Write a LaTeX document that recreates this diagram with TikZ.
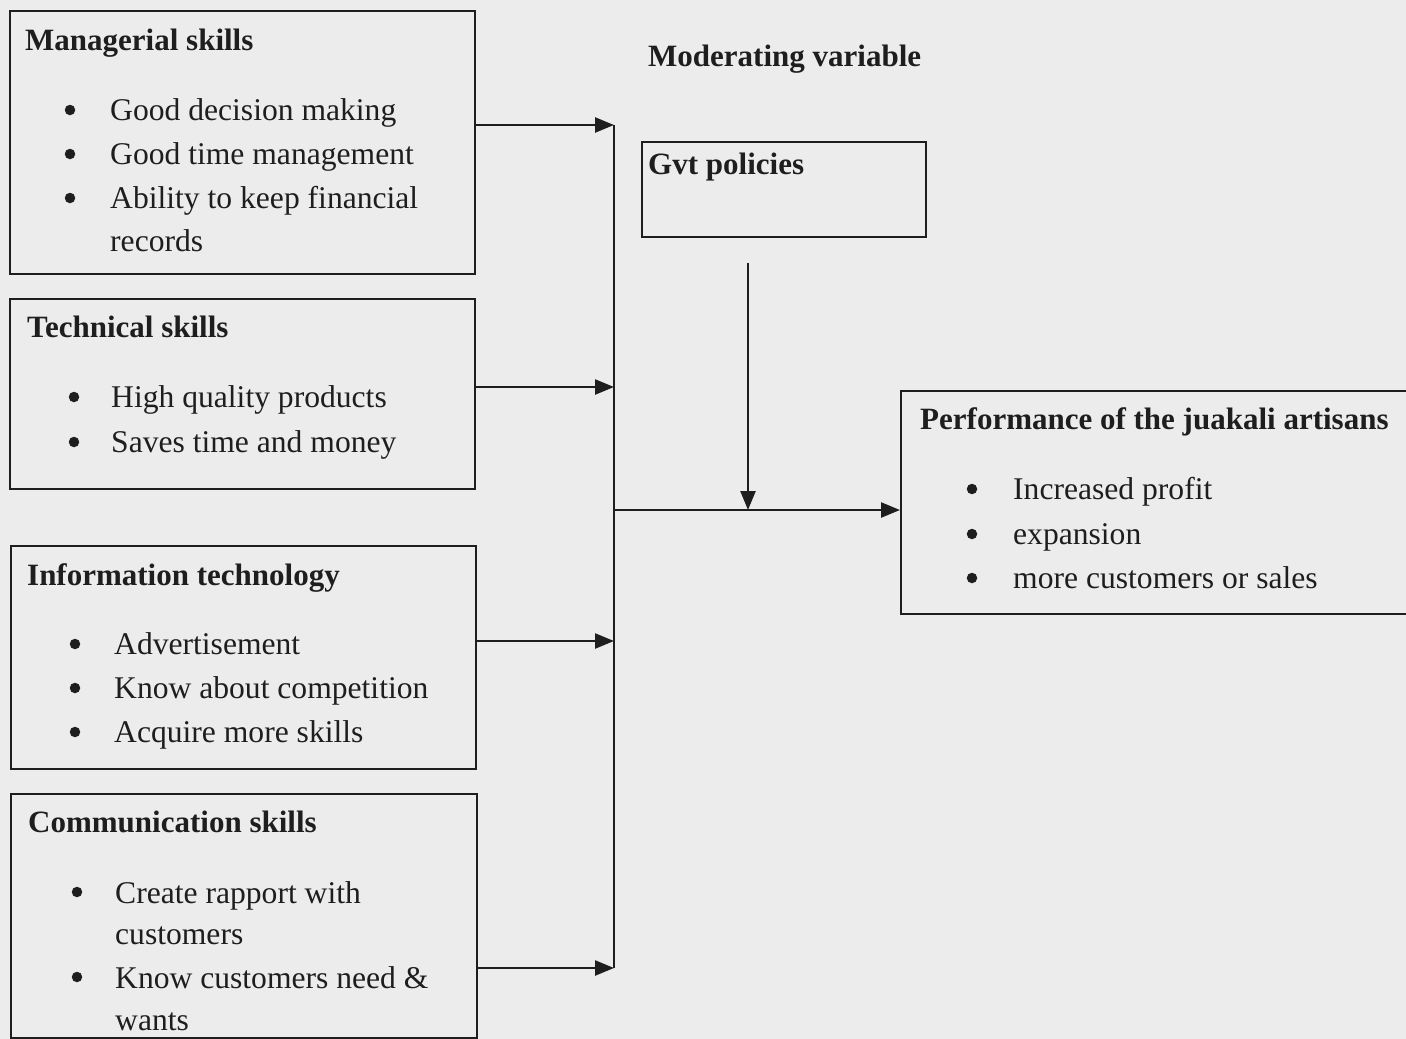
\documentclass[tikz,border=0pt]{standalone}
\usepackage{fontspec}
\setmainfont{Liberation Serif}
\usetikzlibrary{arrows.meta}
\definecolor{bgc}{RGB}{236,236,236}
\definecolor{ink}{RGB}{30,30,30}
\tikzset{
  box/.style={draw=ink, line width=2.3pt, inner sep=0pt, anchor=north west, rectangle},
  body/.style={anchor=base west, inner sep=0pt, text=ink, font=\fontsize{31.6}{37}\selectfont},
  head/.style={anchor=base west, inner sep=0pt, text=ink, font=\fontsize{31}{37}\selectfont\bfseries},
  bul/.style={circle, fill=ink, inner sep=0pt, minimum size=10.5pt},
  conn/.style={draw=ink, line width=2.5pt},
  arr/.style={conn, -{Triangle[length=19pt,width=15pt]}}
}
\begin{document}
\begin{tikzpicture}[x=1pt,y=-1pt]
\fill[bgc] (0,0) rectangle (1406,1039);
\useasboundingbox (0,0) rectangle (1406,1039);

% boxes
\node[box, minimum width=465pt, minimum height=263pt] (mgr) at (9,10) {};
\node[box, minimum width=465pt, minimum height=190pt] (tech) at (9,298) {};
\node[box, minimum width=465pt, minimum height=223pt] (it) at (10,545) {};
\node[box, minimum width=466pt, minimum height=244pt] (comm) at (10,793) {};
\node[box, minimum width=284pt, minimum height=95pt] (gvt) at (641,141) {};
\node[box, minimum width=530pt, minimum height=223pt] (perf) at (900,390) {};

% texts
\node[head] (modv) at (648,66) {Moderating variable};

\node[head] (mgrh) at (25,50) {Managerial skills};
\node[bul] (mb1) at (70,110) {};
\node[body] (m1) at (110,120) {Good decision making};
\node[bul] (mb2) at (70,154) {};
\node[body] (m2) at (110,164) {Good time management};
\node[bul] (mb3) at (70,198) {};
\node[body] (m3) at (110,208) {Ability to keep financial};
\node[body] (m4) at (110,251) {records};

\node[head] (techh) at (27,337) {Technical skills};
\node[bul] (tb1) at (74,397) {};
\node[body] (t1) at (111,407) {High quality products};
\node[bul] (tb2) at (74,442) {};
\node[body] (t2) at (111,452) {Saves time and money};

\node[head] (ith) at (27,585) {Information technology};
\node[bul] (ib1) at (75,644) {};
\node[body] (i1) at (114,654) {Advertisement};
\node[bul] (ib2) at (75,688) {};
\node[body] (i2) at (114,698) {Know about competition};
\node[bul] (ib3) at (75,732) {};
\node[body] (i3) at (114,742) {Acquire more skills};

\node[head] (commh) at (28,832) {Communication skills};
\node[bul] (cb1) at (77,892) {};
\node[body] (c1) at (115,903) {Create rapport with};
\node[body] (c2) at (115,944) {customers};
\node[bul] (cb2) at (77,977) {};
\node[body] (c3) at (115,988) {Know customers need \&};
\node[body] (c4) at (115,1030) {wants};

\node[head] (gvth) at (648,174) {Gvt policies};

\node[head] (perfh) at (920,429) {Performance of the juakali artisans};
\node[bul] (pb1) at (972,489) {};
\node[body] (p1) at (1013,499) {Increased profit};
\node[bul] (pb2) at (972,534) {};
\node[body] (p2) at (1013,544) {expansion};
\node[bul] (pb3) at (972,578) {};
\node[body] (p3) at (1013,588) {more customers or sales};

% connectors
\coordinate (j1) at (614,125);
\coordinate (j2) at (614,387);
\coordinate (j3) at (614,641);
\coordinate (j4) at (614,968);
\coordinate (jm) at (614,510);
\coordinate (gtop) at (748,263);
\coordinate (gbot) at (748,510);

\draw[conn] (j1) -- (j4);
\draw[arr] (mgr.east |- j1) -- (j1);
\draw[arr] (tech.east |- j2) -- (j2);
\draw[arr] (it.east |- j3) -- (j3);
\draw[arr] (comm.east |- j4) -- (j4);
\draw[arr] (jm) -- (perf.west |- jm);
\draw[arr] (gtop) -- (gbot);
\end{tikzpicture}
\end{document}
